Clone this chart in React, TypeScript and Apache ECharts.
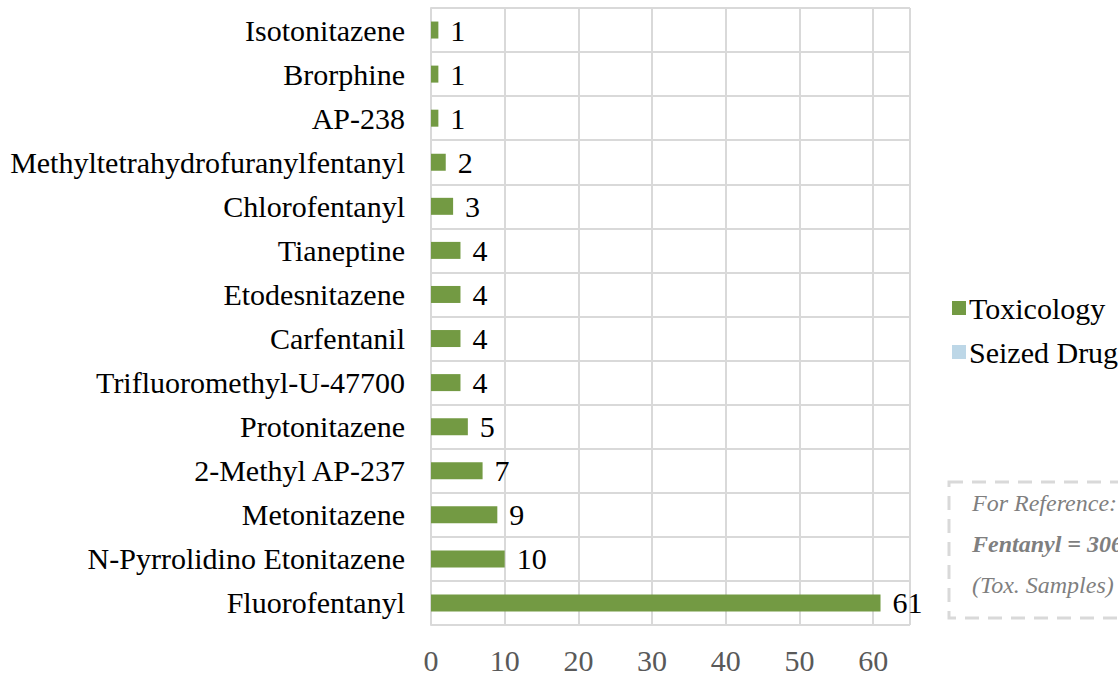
import React, { useEffect, useRef } from "react";
import * as echarts from "echarts";

const categories = [
  "Fluorofentanyl",
  "N-Pyrrolidino Etonitazene",
  "Metonitazene",
  "2-Methyl AP-237",
  "Protonitazene",
  "Trifluoromethyl-U-47700",
  "Carfentanil",
  "Etodesnitazene",
  "Tianeptine",
  "Chlorofentanyl",
  "Methyltetrahydrofuranylfentanyl",
  "AP-238",
  "Brorphine",
  "Isotonitazene",
];
const toxicology = [61, 10, 9, 7, 5, 4, 4, 4, 4, 3, 2, 1, 1, 1];
const seizedDrug: number[] = [];
const referenceLines = ["For Reference:", "Fentanyl = 306", "(Tox. Samples)"];

const FONT = '"Liberation Serif", "Times New Roman", serif';

export default function App() {
  const ref = useRef<HTMLDivElement>(null);
  useEffect(() => {
    if (!ref.current) return;
    const chart = echarts.init(ref.current, null, { renderer: "svg" });
    chart.setOption({
      animation: false,
      backgroundColor: "#ffffff",
      grid: { left: 431, right: 208, top: 8, bottom: 47, containLabel: false },
      legend: {
        orient: "vertical",
        left: 947,
        top: 288,
        itemWidth: 14,
        itemHeight: 14,
        itemGap: 14,
        icon: "rect",
        data: ["Toxicology", "Seized Drug"],
        textStyle: { fontFamily: FONT, fontSize: 30, color: "#000", padding: [0, 0, 0, -2] },
      },
      xAxis: {
        type: "value",
        min: 0,
        max: 65,
        interval: 10,
        axisLine: { show: false },
        axisTick: { show: false },
        splitLine: { show: true, lineStyle: { color: "#d9d9d9", width: 2 } },
        axisLabel: {
          showMaxLabel: false,
          fontFamily: FONT,
          fontSize: 30,
          color: "#595959",
          margin: 20,
        },
      },
      yAxis: {
        type: "category",
        data: categories,
        axisLine: { show: true, lineStyle: { color: "#d9d9d9", width: 2 } },
        axisTick: { show: false },
        splitLine: { show: true, lineStyle: { color: "#d9d9d9", width: 2 } },
        axisLabel: { fontFamily: FONT, fontSize: 30, color: "#000", margin: 26 },
      },
      series: [
        {
          name: "Toxicology",
          type: "bar",
          stack: "s",
          data: toxicology,
          barWidth: 17,
          itemStyle: { color: "#739a43" },
          label: {
            show: true,
            position: "right",
            distance: 12,
            fontFamily: FONT,
            fontSize: 30,
            color: "#000",
          },
        },
        {
          name: "Seized Drug",
          type: "bar",
          stack: "s",
          data: seizedDrug,
          barWidth: 17,
          itemStyle: { color: "#bdd7e7" },
        },
      ],
      graphic: [
        {
          type: "rect",
          shape: { x: 949, y: 482, width: 200, height: 136 },
          style: { fill: "none", stroke: "#d9d9d9", lineWidth: 3, lineDash: [14, 9] },
        },
        {
          type: "text",
          x: 972,
          y: 503,
          style: {
            text: referenceLines[0],
            font: `italic 24px ${FONT}`,
            fill: "#7f7f7f",
            verticalAlign: "middle",
          },
        },
        {
          type: "text",
          x: 972,
          y: 544,
          style: {
            text: referenceLines[1],
            font: `italic bold 24px ${FONT}`,
            fill: "#7f7f7f",
            verticalAlign: "middle",
          },
        },
        {
          type: "text",
          x: 972,
          y: 585,
          style: {
            text: referenceLines[2],
            font: `italic 24px ${FONT}`,
            fill: "#7f7f7f",
            verticalAlign: "middle",
          },
        },
      ],
    });
    return () => chart.dispose();
  }, []);
  return (
    <div
      ref={ref}
      style={{ position: "fixed", left: 0, top: 0, width: 1118, height: 675 }}
    />
  );
}
